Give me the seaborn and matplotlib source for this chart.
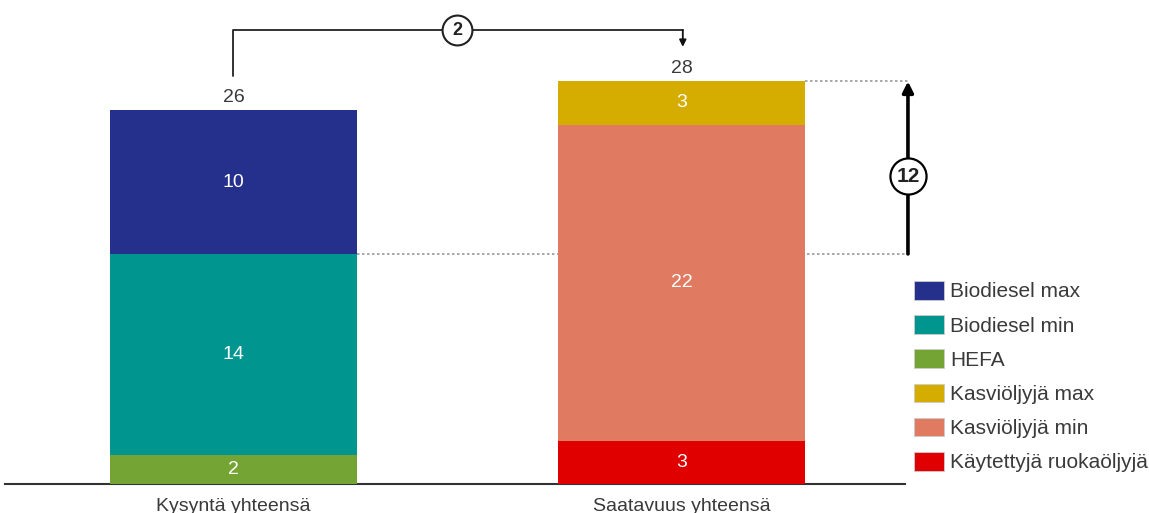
import matplotlib
matplotlib.use("Agg")
import matplotlib.pyplot as plt
from matplotlib.patches import Patch
import seaborn as sns
import numpy as np

# Categories and stacked segments (bottom -> top)
categories = ["Kysyntä yhteensä", "Saatavuus yhteensä"]
demand_series = ["HEFA", "Biodiesel min", "Biodiesel max"]
demand_values = [2, 14, 10]
supply_series = ["Käytettyjä ruokaöljyjä", "Kasviöljyjä min", "Kasviöljyjä max"]
supply_values = [3, 22, 3]

legend_order = ["Biodiesel max", "Biodiesel min", "HEFA",
                "Kasviöljyjä max", "Kasviöljyjä min", "Käytettyjä ruokaöljyjä"]
colors = {
    "Biodiesel max": "#25308c",
    "Biodiesel min": "#00968f",
    "HEFA": "#74a534",
    "Kasviöljyjä max": "#d4ad00",
    "Kasviöljyjä min": "#e07b62",
    "Käytettyjä ruokaöljyjä": "#e00000",
}

sns.set_theme(style="white")
plt.rcParams["font.family"] = ["Liberation Sans", "DejaVu Sans"]
text_col = "#3a3a3a"

W, H = 1149, 513
fig = plt.figure(figsize=(W / 100, H / 100), dpi=100)
ax = fig.add_axes([5 / W, (H - 484) / H, 900 / W, 484 / H])

demand_cum = np.cumsum(demand_values)
supply_cum = np.cumsum(supply_values)
totals = [demand_cum[-1], supply_cum[-1]]
bar_w = 0.552

# Stack by overlaying cumulative bars, tallest first
for level in reversed(range(3)):
    sns.barplot(x=categories, y=[demand_cum[level], supply_cum[level]],
                hue=categories, palette=[colors[demand_series[level]], colors[supply_series[level]]],
                order=categories, hue_order=categories, legend=False,
                saturation=1, width=bar_w, linewidth=0, ax=ax, zorder=3)

ax.set_xlim(-0.51, 1.499)
ax.set_ylim(0, 33.66)
ax.set_yticks([])
for s in ["top", "right", "left"]:
    ax.spines[s].set_visible(False)
ax.spines["bottom"].set_color("#333333")
ax.spines["bottom"].set_linewidth(1.5)
ax.set_xticks([0, 1])
ax.set_xticklabels(categories, fontsize=14, color=text_col)
ax.tick_params(axis="x", length=0, pad=10)
ax.set_xlabel("")
ax.set_ylabel("")

# Segment value labels
for xi, vals, cum in [(0, demand_values, demand_cum), (1, supply_values, supply_cum)]:
    for v, c in zip(vals, cum):
        ax.text(xi, c - v / 2, f"{v}", ha="center", va="center",
                color="white", fontsize=14, zorder=5)

# Totals above bars
for xi, t in enumerate(totals):
    ax.annotate(f"{t}", (xi, t), xytext=(0, 3), textcoords="offset points",
                ha="center", va="bottom", fontsize=14, color=text_col)

# Dotted reference lines
ax.plot([bar_w / 2, 1.511], [demand_cum[1], demand_cum[1]], ls=(0, (1.5, 1.5)),
        color="#9a9a9a", lw=1.2, zorder=1, clip_on=False)
ax.plot([1 + bar_w / 2, 1.511], [totals[1], totals[1]], ls=(0, (1.5, 1.5)),
        color="#9a9a9a", lw=1.2, zorder=1, clip_on=False)

# Difference bracket between totals
y_br = 31.57
ax.plot([0, 0, 1.003], [28.4, y_br, y_br], color="#222222", lw=1.3, clip_on=False)
ax.annotate("", xy=(1.003, 30.4), xytext=(1.003, y_br),
            arrowprops=dict(arrowstyle="-|>", color="#111111", lw=1.3,
                            mutation_scale=10, shrinkA=0, shrinkB=0))
diff = totals[1] - totals[0]
ax.plot([0.5], [y_br], marker="o", ms=21.5, mfc="white", mec="#222222", mew=1.5,
        zorder=6, clip_on=False)
ax.text(0.5, y_br, f"{diff}", ha="center", va="center", fontsize=13,
        fontweight="bold", color="#222222", zorder=7)

# Gap arrow between demand min level and supply total
x_arr = (908 - 233.5) / 448
gap = totals[1] - demand_cum[1]
ax.annotate("", xy=(x_arr, totals[1]), xytext=(x_arr, demand_cum[1]),
            arrowprops=dict(arrowstyle="-|>", color="black", lw=2.6,
                            mutation_scale=16, shrinkA=0, shrinkB=0),
            annotation_clip=False)
ax.plot([x_arr], [21.4], marker="o", ms=26, mfc="white", mec="black", mew=1.6,
        zorder=6, clip_on=False)
ax.text(x_arr, 21.4, f"{gap}", ha="center", va="center", fontsize=15,
        fontweight="bold", color="#222222", zorder=7, clip_on=False)

# Legend
handles = [Patch(facecolor=colors[n], edgecolor="#cccccc", linewidth=0.6, label=n)
           for n in legend_order]
fig.legend(handles=handles, loc="upper left", bbox_to_anchor=(914 / W, 1 - 281 / H),
           frameon=False, fontsize=15, handlelength=1.45, handleheight=1.0,
           handletextpad=0.3, labelspacing=0.66, borderpad=0, borderaxespad=0,
           labelcolor=text_col)

fig.savefig("out.png", dpi=100)
